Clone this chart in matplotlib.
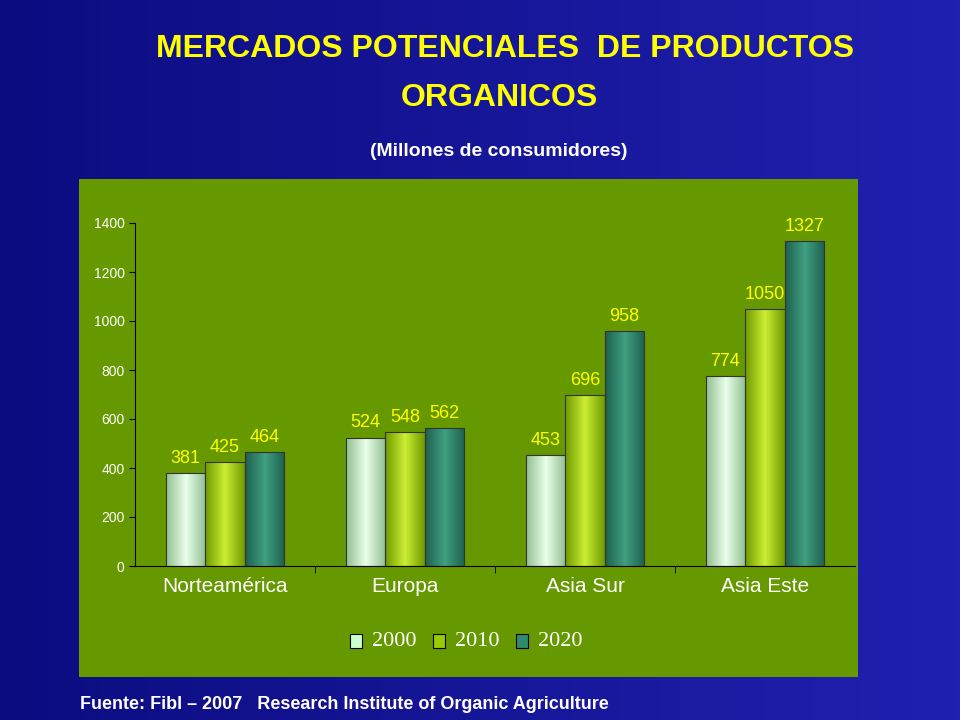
import numpy as np
import matplotlib
matplotlib.use("Agg")
import matplotlib.pyplot as plt
from matplotlib.colors import LinearSegmentedColormap

regiones = ["Norteamérica", "Europa", "Asia Sur", "Asia Este"]
anios = ["2000", "2010", "2020"]
v2000 = [381, 524, 453, 774]
v2010 = [425, 548, 696, 1050]
v2020 = [464, 562, 958, 1327]
series = [v2000, v2010, v2020]

# dark edge / light centre pairs for the shaded bars
tonos = [("#8fbf8f", "#eaffea"), ("#6f9900", "#ccee33"), ("#1f5f4f", "#3fa080")]
leg_col = ["#ccffcc", "#99cc00", "#2e8b6e"]

fig = plt.figure(figsize=(9.6, 7.2), dpi=100)
# blue background
bg = fig.add_axes([0, 0, 1, 1])
g = np.linspace(0, 1, 256)
bg.imshow(np.outer(np.ones(10), g), cmap=LinearSegmentedColormap.from_list("b", ["#0c0c80", "#2020b0"]),
          aspect="auto", extent=[0, 1, 0, 1])
bg.axis("off")

fig.text(0.526, 0.932, "MERCADOS POTENCIALES  DE PRODUCTOS", color="#ffff00", fontsize=23,
         fontweight="bold", family="Liberation Sans", ha="center", va="center")
fig.text(0.52, 0.864, "ORGANICOS", color="#ffff00", fontsize=23,
         fontweight="bold", family="Liberation Sans", ha="center", va="center")
fig.text(0.52, 0.79, "(Millones de consumidores)", color="white", fontsize=14,
         fontweight="bold", family="Liberation Sans", ha="center", va="center")
fig.text(0.083, 0.022, "Fuente: Fibl \u2013 2007   Research Institute of Organic Agriculture",
         color="white", fontsize=13, fontweight="bold", family="Liberation Sans", va="center")

# green panel
panel = fig.add_axes([79 / 960, 1 - 677 / 720, 779 / 960, 498 / 720])
panel.set_facecolor("#669900")
panel.set_xticks([]); panel.set_yticks([])
for s in panel.spines.values():
    s.set_visible(False)

ax = fig.add_axes([135 / 960, 1 - 566 / 720, 720 / 960, 343 / 720])
ax.set_facecolor("none")
x = np.arange(len(regiones)) + 0.5
w = 0.22
for k, vals in enumerate(series):
    cmap = LinearSegmentedColormap.from_list("c%d" % k, [tonos[k][0], tonos[k][1], tonos[k][0]])
    for xi, v in zip(x + (k - 1) * w, vals):
        bar = ax.bar(xi, v, w, color="none", edgecolor="#333333", linewidth=0.8, zorder=3)[0]
        im = ax.imshow(np.outer(np.ones(2), g), cmap=cmap, aspect="auto",
                       extent=[xi - w / 2, xi + w / 2, 0, v], zorder=2)
        im.set_clip_path(bar)
        ax.text(xi, v + 25, str(v), color="#ffff00", fontsize=13, ha="center", va="bottom",
                family="Liberation Sans")
ax.set_xlim(0, 4)
ax.set_ylim(0, 1400)
ax.set_xticks(x)
ax.set_xticklabels(regiones, color="white", fontsize=15, family="Liberation Sans")
ax.set_xticks([1, 2, 3], minor=True)
ax.tick_params(axis="x", which="both", length=5, color="black")
ax.tick_params(axis="x", which="major", length=0, pad=8)
ax.set_yticks(range(0, 1401, 200))
ax.tick_params(axis="y", colors="white", labelsize=10, length=4)
for t in ax.get_yticklabels():
    t.set_color("white")
    t.set_family("Liberation Sans")
ax.tick_params(axis="y", color="black")
for s in ["top", "right"]:
    ax.spines[s].set_visible(False)
ax.spines["left"].set_color("black")
ax.spines["bottom"].set_color("black")

# legend
for k, a in enumerate(anios):
    lx = 350 + k * 83
    fig.patches.append(plt.Rectangle((lx / 960, 1 - 648 / 720), 12 / 960, 14 / 720,
                                     transform=fig.transFigure, facecolor=leg_col[k],
                                     edgecolor="black", linewidth=0.8))
    fig.text((lx + 22) / 960, 1 - 641 / 720, a, color="white", fontsize=16,
             family="Liberation Serif", va="center")

fig.savefig("out.png", dpi=100)
